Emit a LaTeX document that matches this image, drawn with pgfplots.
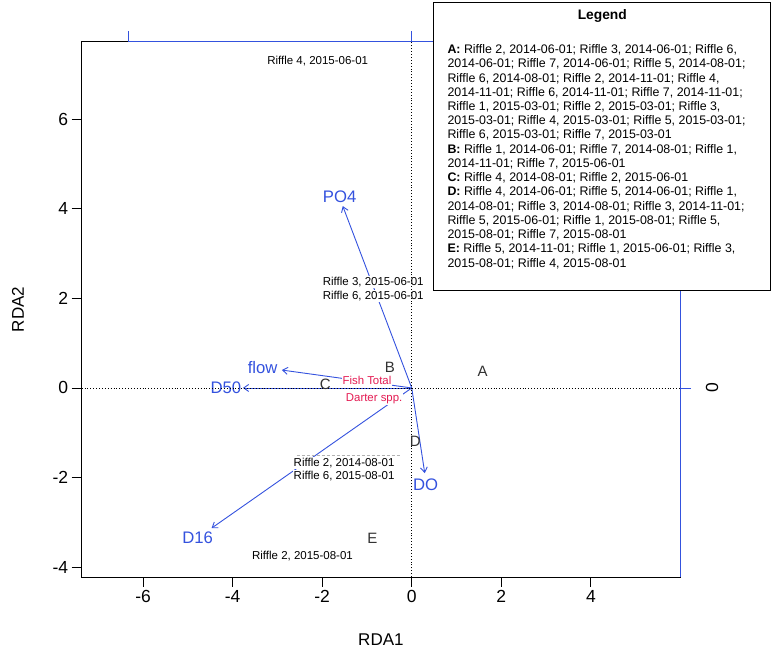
\documentclass[border=0pt]{standalone}
\usepackage{pgfplots}
\pgfplotsset{compat=1.18}
\usetikzlibrary{arrows.meta}
\usepackage{fontspec}
\setmainfont{Liberation Sans}
\definecolor{rdablue}{RGB}{52,82,222}
\definecolor{sppred}{RGB}{228,26,82}
\definecolor{sitegray}{RGB}{50,50,50}

\begin{document}
\begin{tikzpicture}[x=1pt,y=1pt]
\useasboundingbox (-81.7,-82) rectangle (690.3,577);
\begin{axis}[
    at={(0,0)}, anchor=south west,
    scale only axis, width=598.3pt, height=535.3pt,
    xmin=-7.37, xmax=5.99, ymin=-4.22, ymax=7.73,
    clip=false,
    axis line style={black, line width=0.8pt},
    xtick={-6,-4,...,4}, ytick={-4,-2,...,6},
    xtick pos=left, ytick pos=left,
    tick align=outside, major tick length=10pt,
    tick style={black, line width=0.8pt},
    /pgf/number format/assume math mode=true,
    ticklabel style={font=\fontsize{17.5}{20}\selectfont},
    ]
    % biplot arrows (environmental variables)
    \addplot[rdablue, line width=0.9pt, -{Straight Barb[length=5pt,width=7pt]},
        quiver={u=\thisrow{u}, v=\thisrow{v}}] table {
    x y u v
    0 0 -1.54 4.06
    0 0 -2.90 0.40
    0 0 -3.77 0.00
    0 0 -4.47 -3.13
    0 0 0.29 -1.90
    };
    % arrow labels
    \begin{scope}[every node/.style={text=rdablue, font=\fontsize{16.7}{19}\selectfont, inner sep=0pt}]
    \node at (axis cs:-1.61,4.27) {PO4};
    \node at (axis cs:-3.33,0.45) {flow};
    \node at (axis cs:-4.15,0.00) {D50};
    \node at (axis cs:-4.78,-3.35) {D16};
    \node at (axis cs:0.31,-2.17) {DO};
    \end{scope}
    % site labels
    \begin{scope}[every node/.style={fill=white, inner sep=1pt, font=\fontsize{11.5}{13}\selectfont, text=black}]
    \node at (axis cs:-2.10,7.30) {Riffle 4, 2015-06-01};
    \node at (axis cs:-0.86,2.36) {Riffle 3, 2015-06-01};
    \node at (axis cs:-0.86,2.05) {Riffle 6, 2015-06-01};
    \node at (axis cs:-1.51,-1.67) {Riffle 2, 2014-08-01};
    \node at (axis cs:-1.51,-1.96) {Riffle 6, 2015-08-01};
    \node at (axis cs:-2.44,-3.75) {Riffle 2, 2015-08-01};
    \end{scope}
    \draw[gray!60, densely dashed, line width=0.6pt] (axis cs:-2.57,-1.50) -- (axis cs:-0.27,-1.50);
    % species labels
    \begin{scope}[every node/.style={fill=white, inner sep=0.8pt, font=\fontsize{11.4}{13}\selectfont, text=sppred}]
    \node at (axis cs:-1.00,0.16) {Fish Total};
    \node at (axis cs:-0.84,-0.25) {Darter spp.};
    \end{scope}
    % zero lines
    \draw[black, dotted, line width=0.9pt] (axis cs:0,-4.22) -- (axis cs:0,7.73);
    \draw[black, dotted, line width=0.9pt] (axis cs:-7.37,0) -- (axis cs:5.99,0);
    % centroid letters
    \begin{scope}[every node/.style={text=sitegray, font=\fontsize{15}{17}\selectfont, inner sep=0pt}]
    \node at (axis cs:1.58,0.36) {A};
    \node at (axis cs:-0.49,0.47) {B};
    \node at (axis cs:-1.93,0.09) {C};
    \node at (axis cs:0.08,-1.20) {D};
    \node at (axis cs:-0.88,-3.36) {E};
    \end{scope}
    % secondary (blue) axes
    \draw[rdablue, line width=0.8pt] (axis cs:-6.32,7.73) -- (axis cs:5.99,7.73) -- (axis cs:5.99,-4.22);
    \draw[rdablue, line width=0.8pt] (axis cs:-6.32,7.73) -- (axis cs:-6.32,7.975);
    \draw[rdablue, line width=0.8pt] (axis cs:0,7.73) -- (axis cs:0,7.975);
    \draw[rdablue, line width=0.8pt] (axis cs:5.99,0) -- (axis cs:6.235,0);
    \node[rotate=90, font=\fontsize{17.5}{20}\selectfont] at ([xshift=32pt]axis cs:5.99,0) {0};
\end{axis}
% axis titles
\node[font=\fontsize{17}{20}\selectfont] at (299.2,-63) {RDA1};
\node[rotate=90, font=\fontsize{17}{20}\selectfont] at (-63.7,267.5) {RDA2};
% legend box
\draw[black, line width=0.8pt, fill=white] (351.6,287) rectangle (688.3,575);
\node[font=\bfseries\fontsize{13.8}{16}\selectfont] at (520.6,561) {Legend};
\node[anchor=north west, align=left, inner sep=0pt, font=\fontsize{12.4}{14.23}\selectfont] at (365.6,532.6) {%
\textbf{A:} Riffle 2, 2014-06-01; Riffle 3, 2014-06-01; Riffle 6,\\
2014-06-01; Riffle 7, 2014-06-01; Riffle 5, 2014-08-01;\\
Riffle 6, 2014-08-01; Riffle 2, 2014-11-01; Riffle 4,\\
2014-11-01; Riffle 6, 2014-11-01; Riffle 7, 2014-11-01;\\
Riffle 1, 2015-03-01; Riffle 2, 2015-03-01; Riffle 3,\\
2015-03-01; Riffle 4, 2015-03-01; Riffle 5, 2015-03-01;\\
Riffle 6, 2015-03-01; Riffle 7, 2015-03-01\\
\textbf{B:} Riffle 1, 2014-06-01; Riffle 7, 2014-08-01; Riffle 1,\\
2014-11-01; Riffle 7, 2015-06-01\\
\textbf{C:} Riffle 4, 2014-08-01; Riffle 2, 2015-06-01\\
\textbf{D:} Riffle 4, 2014-06-01; Riffle 5, 2014-06-01; Riffle 1,\\
2014-08-01; Riffle 3, 2014-08-01; Riffle 3, 2014-11-01;\\
Riffle 5, 2015-06-01; Riffle 1, 2015-08-01; Riffle 5,\\
2015-08-01; Riffle 7, 2015-08-01\\
\textbf{E:} Riffle 5, 2014-11-01; Riffle 1, 2015-06-01; Riffle 3,\\
2015-08-01; Riffle 4, 2015-08-01};
\end{tikzpicture}
\end{document}
